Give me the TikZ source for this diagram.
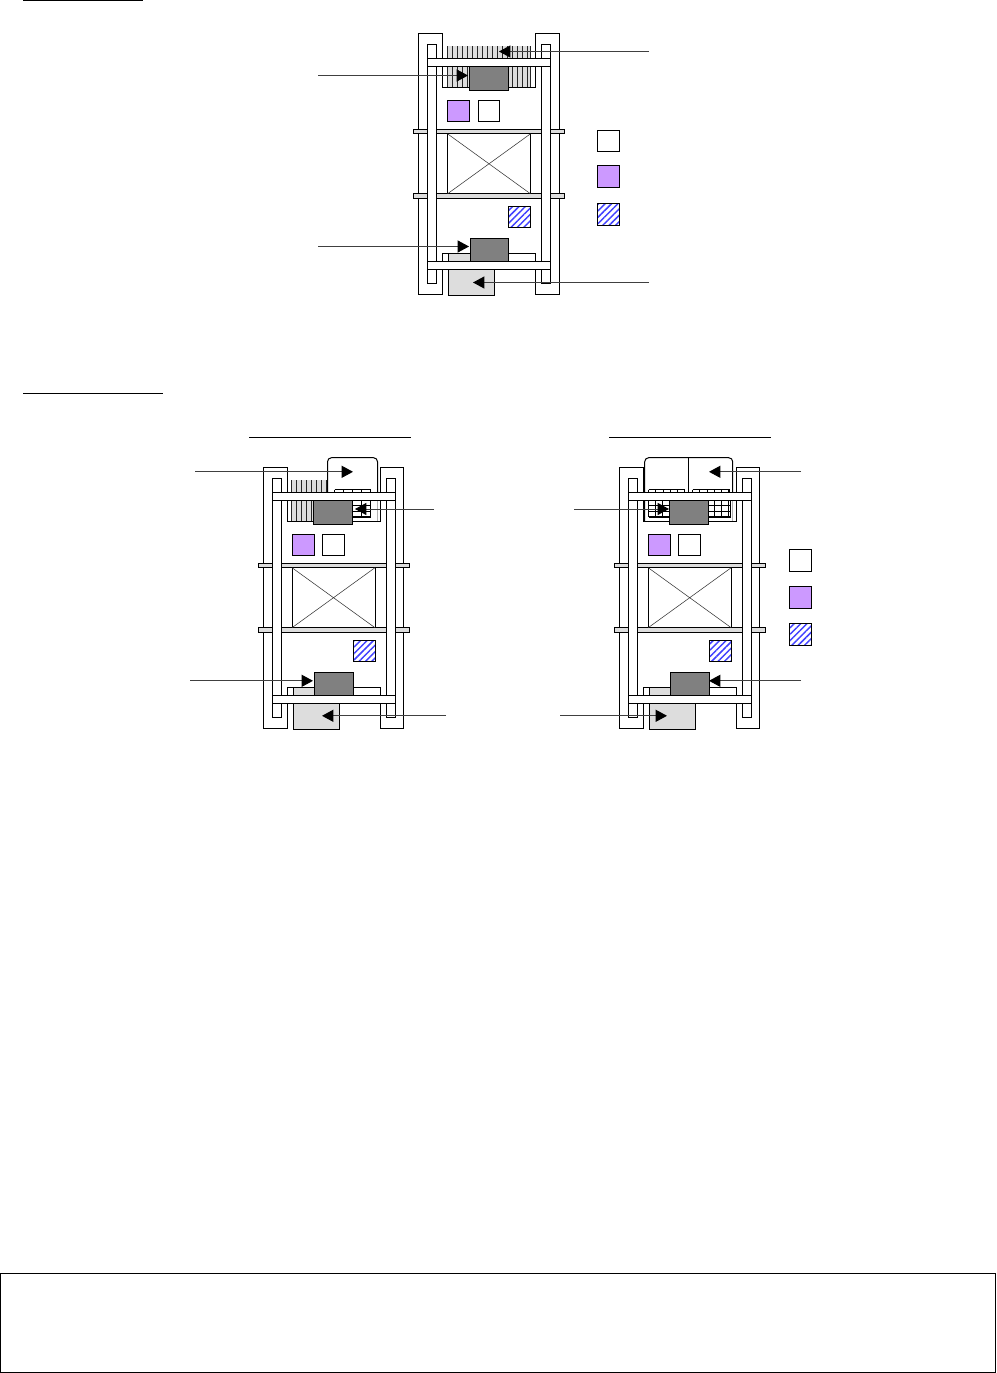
\documentclass[tikz,border=0pt]{standalone}
\usetikzlibrary{arrows.meta,patterns.meta}
\definecolor{lgray}{HTML}{DDDDDD}
\definecolor{cargray}{HTML}{808080}
\definecolor{lilac}{HTML}{CC99FF}
\tikzset{
  px/.style={x=0.75pt,y=-0.75pt},
  ln/.style={draw=black,line width=0.75pt,line join=miter},
  white box/.style={ln,fill=white},
  gray box/.style={ln,fill=lgray},
  car/.style={ln,fill=cargray},
  lilac box/.style={ln,fill=lilac},
  hatch box/.style={ln,preaction={fill=white},pattern={Lines[angle=45,distance=3.4pt,line width=1.1pt]},pattern color=blue!75!white},
  pointer/.style={draw=black!75,line width=0.75pt,-{Triangle[length=8.5pt,width=9pt,color=black]}},
  rule/.style={draw=black,line width=0.75pt}
}
% vertical-striped grey block
\newcommand{\stripes}[4]{%
  \fill[lgray] (#1,#2) rectangle (#3,#4);
  \pgfmathsetmacro{\xs}{#1+5}
  \foreach \xx in {#1,\xs,...,#3}{\draw[black!85,line width=0.45pt] (\xx,#2) -- (\xx,#4);}
  \draw[black!85,line width=0.45pt] (#3,#2) -- (#3,#4);
}
% black-ruled grid block
\newcommand{\gridblock}[5]{%
  \fill[white] (#1,#2) rectangle (#3,#4);
  \pgfmathsetmacro{\xs}{#1+#5}
  \foreach \xx in {#1,\xs,...,#3}{\draw[black,line width=0.75pt] (\xx,#2) -- (\xx,#4);}
  \draw[black,line width=0.75pt] (#3,#2) -- (#3,#4);
  \pgfmathsetmacro{\ys}{#2+5.5}
  \foreach \yy in {#2,\ys,...,#4}{\draw[black,line width=0.75pt] (#1,\yy) -- (#3,\yy);}
  \draw[black,line width=0.75pt] (#1,#4) -- (#3,#4);
}
% rear part of a shaft: outer columns and lower landing box
\newcommand{\shaftback}{%
  \draw[white box] (418.5,33) rectangle (442.5,294.5);
  \draw[white box] (535.5,33) rectangle (559,294.5);
  \fill[white] (437,67) rectangle (541,260);
  \draw[white box] (442.5,66) rectangle (535.5,87);
}
% front part of a shaft
\newcommand{\shaftfront}{%
  \draw[gray box] (413.5,129) rectangle (564.5,133.5);
  \draw[gray box] (413.5,193.5) rectangle (564.5,198);
  \draw[white box] (447.5,133.5) rectangle (530.5,193.5);
  \draw[black!80,line width=0.4pt] (447.5,133.5) -- (530.5,193.5) (447.5,193.5) -- (530.5,133.5);
  \draw[white box] (442.5,253) rectangle (535.5,261);
  \draw[gray box,draw=none] (448.5,253.5) rectangle (470,260.5);
  \draw[black,line width=0.75pt] (448.5,253) -- (448.5,261);
  \draw[gray box] (448.5,269) rectangle (494.5,295.5);
  \draw[white box] (427.5,44) rectangle (436.5,283);
  \draw[white box] (541.5,44) rectangle (550.5,283);
  \draw[white box] (427.5,58.5) rectangle (550.5,66);
  \draw[white box] (427.5,261) rectangle (550.5,269);
  \draw[car] (469,66) rectangle (508,90);
  \draw[car] (470,238.5) rectangle (508.5,261);
  \draw[lilac box] (447.5,100.5) rectangle (469.5,121.5);
  \draw[white box] (478,100.5) rectangle (499.5,121.5);
  \draw[hatch box] (508.5,206.5) rectangle (530.5,227.5);
}
\newcommand{\legendset}[4]{%
  \draw[white box] (#1,#2) rectangle ++(22,21.5);
  \draw[lilac box] (#1,#3) rectangle ++(22,21.5);
  \draw[hatch box] (#1,#4) rectangle ++(22,21.5);
}
\begin{document}
\begin{tikzpicture}[px]
\useasboundingbox (0,0) rectangle (996,1373);
\fill[white] (0,0) rectangle (996,1373);
% heading rules
\coordinate (r1a) at (23,1); \coordinate (r1b) at (143,1);
\coordinate (r2a) at (23,393.5); \coordinate (r2b) at (163,393.5);
\coordinate (r3a) at (249,437.5); \coordinate (r3b) at (411,437.5);
\coordinate (r4a) at (609,437.5); \coordinate (r4b) at (771,437.5);
\draw[rule] (r1a) -- (r1b);
\draw[rule] (r2a) -- (r2b);
\draw[rule] (r3a) -- (r3b);
\draw[rule] (r4a) -- (r4b);
% upper shaft
\begin{scope}[shift={(0,0.3)}]
  \shaftback
  \stripes{447}{46}{530}{58}
  \stripes{447}{66.5}{530}{87}
  \draw[white box,fill=none] (442.5,66) rectangle (535.5,87);
  \shaftfront
\end{scope}
% lower left shaft
\begin{scope}[shift={(-155.5,434.2)}]
  \shaftback
  \fill[white] (483,23.5) rectangle (533,87);
  \draw[ln,rounded corners=3pt] (483,58) -- (483,23.5) -- (533,23.5) -- (533,58);
  \draw[gray!60,line width=0.75pt] (533,58) -- (533,87);
  \stripes{447}{46}{482}{58}
  \stripes{447}{66.5}{469}{87}
  \gridblock{490}{55.5}{526}{58.5}{9}
  \gridblock{508}{66}{526}{83}{9}
  \draw[ln] (442.5,87) -- (535.5,87);
  \shaftfront
\end{scope}
% lower right shaft
\begin{scope}[shift={(200.7,434.2)}]
  \shaftback
  \fill[white] (444,23.5) rectangle (532,87);
  \draw[ln,rounded corners=3pt] (444,87) -- (444,23.5) -- (532,23.5) -- (532,58);
  \draw[gray!60,line width=0.75pt] (532,58) -- (532,87);
  \draw[ln] (488,23.5) -- (488,58);
  \gridblock{448}{55.5}{484}{58.5}{7.2}
  \gridblock{492}{55.5}{529}{58.5}{7.2}
  \gridblock{448}{66}{470}{83}{7}
  \gridblock{507}{66}{530}{83}{7}
  \draw[ln] (442.5,87) -- (535.5,87);
  \shaftfront
\end{scope}
% legends
\legendset{597.5}{130.3}{165.8}{203.8}
\legendset{789}{549.8}{586.8}{623.8}
% connector ends
\coordinate (a1s) at (649,51.5);  \coordinate (a1t) at (499,51.5);
\coordinate (a2s) at (318,75.5);  \coordinate (a2t) at (468,75.5);
\coordinate (a3s) at (318,246.5); \coordinate (a3t) at (469,246.5);
\coordinate (a4s) at (649,282.5); \coordinate (a4t) at (473,282.5);
\coordinate (b1s) at (195,471.8); \coordinate (b1t) at (353,471.8);
\coordinate (b2s) at (434,509); \coordinate (b2t) at (355,509);
\coordinate (b3s) at (190,680.8); \coordinate (b3t) at (313,680.8);
\coordinate (b4s) at (446,715.8); \coordinate (b4t) at (322,715.8);
\coordinate (c1s) at (801,471.8); \coordinate (c1t) at (709,471.8);
\coordinate (c2s) at (574,509); \coordinate (c2t) at (669,509);
\coordinate (c3s) at (801,680.8); \coordinate (c3t) at (709,680.8);
\coordinate (c4s) at (560,715.8); \coordinate (c4t) at (667,715.8);
\foreach \p in {a1,a2,a3,a4,b1,b2,b3,b4,c1,c2,c3,c4}{\draw[pointer] (\p s) -- (\p t);}
% footer frame
\draw[ln] (0.5,1273.5) rectangle (995.5,1372.5);
\end{tikzpicture}
\end{document}
